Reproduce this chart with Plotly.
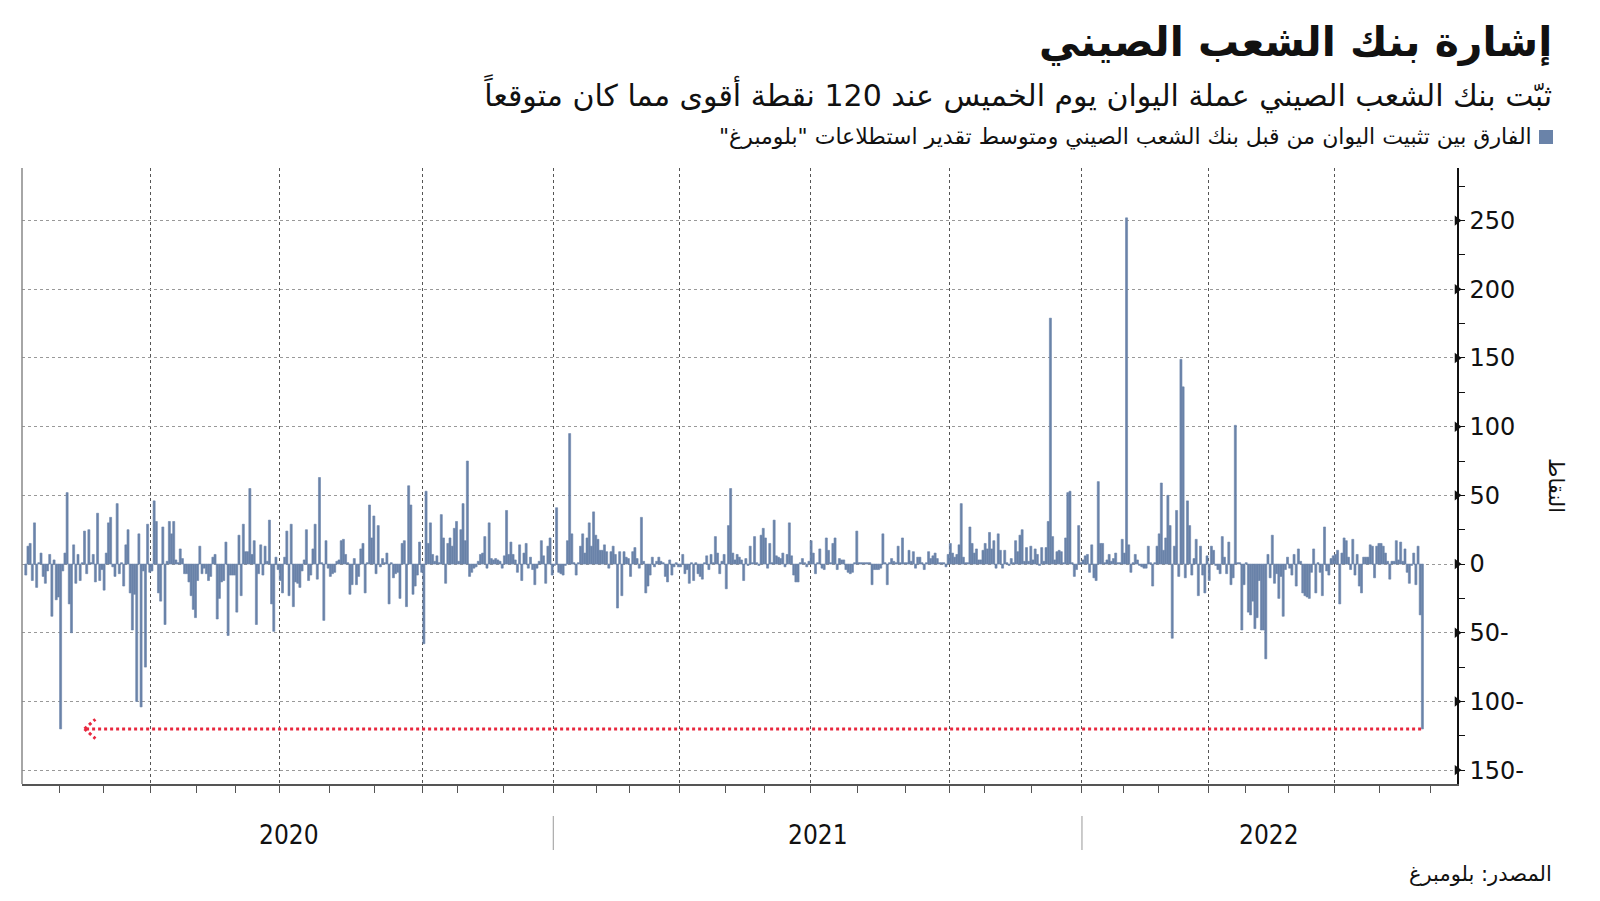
import numpy as np
import plotly.graph_objects as go

# ---------------- text ----------------
title = "إشارة بنك الشعب الصيني"
subtitle = "ثبّت بنك الشعب الصيني عملة اليوان يوم الخميس عند 120 نقطة أقوى مما كان متوقعاً"
legend_label = "الفارق بين تثبيت اليوان من قبل بنك الشعب الصيني ومتوسط تقدير استطلاعات \"بلومبرغ\""
source = "المصدر: بلومبرغ"
y_title = "النقاط"
years = ["2020", "2021", "2022"]

# ---------------- calendar (trading days per month) ----------------
trading_days_2020 = [16, 20, 22, 21, 18, 20, 23, 21, 22, 16, 21, 23]
trading_days_2021 = [20, 15, 23, 21, 18, 21, 22, 22, 20, 16, 22, 23]
trading_days_2022 = [19, 16, 23, 17, 20, 21, 21, 23]

# ---------------- data: fixing minus Bloomberg survey estimate (pips) ----------------
diff_2020_q1 = [-8, 13, 15, -12, 30, -17, 1, 8, -9, -14,
                -5, 7, -38, 3, -26, -24, -120, -5, 8, 52,
                -29, -50, 14, -14, 7, -12, 1, 24, -7, 25,
                1, 7, -13, 37, -12, -4, -19, 8, 30, 34,
                -2, -9, 44, -7, 1, -16, 14, 25, -21, -48,
                -22, -100, 22, -104, -5, -75, 29, -6, -5, 46,
                31, -21, -27, 27, -44, 2, 31, 22, 31, 3,
                1, 11, 4, -7, -7, -13, -23, -33, -39, -12]
diff_2020_q2 = [13, -7, -3, -7, -12, -9, 5, 7, -40, -25,
                -13, -12, 16, -52, -8, -8, -8, -35, 21, -23,
                29, 9, 9, 55, 7, 17, -44, -7, 14, -8,
                13, 2, 32, -29, -49, 5, -4, -12, -21, 5,
                24, -23, 29, -31, -13, -14, -17, -5, 3, 25,
                -12, -8, 11, 29, -11, 63, 1, -41, 17, -3,
                -9, -7, -6, 2, 3, 17, 18, 7, 1, -22,
                -15, 4, -15, -9, 11, 15, -21, 1, 43, 19,
                35]
diff_2020_q3 = [-7, 28, -2, 4, 1, 8, -29, 1, -10, -7,
                -6, -25, 15, 17, -31, 57, 43, -22, -16, -8,
                16, -6, -58, 53, 15, 30, 7, 2, 6, 1,
                36, 19, -14, 15, 19, 13, 26, 31, 2, 25,
                44, 17, 75, -9, -6, -3, -2, 2, 7, 8,
                20, -3, 30, 4, 3, 4, 3, 2, -3, 6,
                39, 7, 16, 7, 3, -6, 14, -12, 8, 15,
                -3, 5, -4, -15, -3, 2, 17, 6, -14, 13]
diff_2021_q1 = [19, -8, -1, 41, -6, -7, -8, -1, 17, 95,
                22, 1, -8, 1, 13, 22, 8, 19, 30, 13,
                38, 21, 18, 10, 10, 14, 9, -3, 9, 13,
                7, -32, 9, -23, 9, 5, 4, -9, 9, 12,
                4, -3, 34, 2, -21, -16, -8, 5, -2, 2,
                5, 2, 1, -9, -13, 3, -8, -2, 1, -2,
                -2, 7, -7, -4, -14, 1, -12, 1, -7, -9,
                -11, 1, 6, -4, 7, 1, 20, 8, -7, 2,
                7]
diff_2021_q2 = [-18, 28, 55, 8, 3, 7, 5, 3, -12, 4,
                -1, 13, 1, 20, 1, -1, 21, 26, 19, -3,
                15, 1, 32, 6, 5, 4, 8, -2, 7, 30,
                6, -8, -13, -13, 1, 4, 1, -2, 2, 17,
                8, -7, 1, 11, -3, -4, 19, 10, 1, 15,
                19, -4, 4, 3, 3, -4, -6, -7, -6, 1,
                24, 1, 1, 1, 1, 1, 1, -15, -4, -4,
                -4, -3, 22, 1, -15, 1, 4, 2, 1, 13]
diff_2021_q3 = [1, 19, 1, 1, 10, 2, 9, -3, 5, 5,
                1, -4, 1, 9, 4, 6, 8, 4, 1, 1,
                1, -2, 7, 15, 8, 5, 7, 14, 44, 5,
                1, 1, 27, 15, 8, 11, 3, 3, 10, 15,
                11, 23, 11, 17, -3, 22, 10, -3, 10, 1,
                -1, 4, 1, 17, 9, 21, 25, 2, 12, 2,
                13, 3, 11, 7, -1, 12, 2, 12, 31, 179,
                20, 3, 9, 10, 9, 1, 19, 52, 53, 1,
                -9]
diff_2022_q1 = [-4, 28, 1, 3, 6, 7, -6, 14, -10, -12,
                60, 15, 15, 1, 3, 7, 2, 4, 8, 1,
                1, 18, 8, 252, 14, -6, 1, 7, 3, -1,
                -2, -3, -3, 13, 1, -16, 1, 13, 22, 59,
                10, 19, 50, 28, -54, 13, 39, -9, 149, 129,
                -10, 46, 28, -8, 4, 18, -23, 13, -8, -21,
                6, -12, 13, 10, -1, -4, -7, 20, 5, -7,
                16, -15, -10, 101, 1, 1, -48, -15, 1, -35]
diff_2022_q2 = [-37, -27, -47, -39, -12, -48, -48, -69, 7, -10,
                21, -14, -7, -25, -9, -38, -4, 5, -3, -8,
                7, -16, 11, 2, -21, -23, -24, -25, -6, 11,
                -21, 1, -6, -23, 27, -5, -8, 4, 6, 7,
                10, -29, 8, 19, 17, 5, -4, 18, -8, 7,
                -16, -21, 5, 5, 5, 14, 13, -10, 13, 15,
                15, 13, 8, 2, -11, 2, 2, 17, 3, 16,
                2, 11, -6, -14, -1, 8, -15, 13, -37, -120]

# ---------------- axis labels ----------------
y_tick_vals = [-150, -100, -50, 0, 50, 100, 150, 200, 250]
y_tick_text = ["150-", "100-", "50-", "0", "50", "100", "150", "200", "250"]

# ---------------- build ----------------
values = (diff_2020_q1 + diff_2020_q2 + diff_2020_q3 + diff_2021_q1 + diff_2021_q2
          + diff_2021_q3 + diff_2022_q1 + diff_2022_q2)
idx = list(range(len(values)))

months = trading_days_2020 + trading_days_2021 + trading_days_2022
bounds = list(np.cumsum([0] + months) - 0.5)          # month boundaries
quarter_bounds = [b for k, b in enumerate(bounds) if k % 3 == 0 and k > 0 and k < len(bounds) - 1]
x_min, x_max = -1.74, 657.9
y_min, y_max = -160.1, 288.3

BAR = "#6a83a9"
RED = "#e8283f"
AR_FONT = "DejaVu Sans, sans-serif"
NUM_FONT = "DejaVu Sans, sans-serif"
RLM = "\u200f"

fig = go.Figure()
fig.add_trace(go.Bar(x=idx, y=values, marker=dict(color=BAR, line=dict(width=0.6, color=BAR)),
                     showlegend=False, hoverinfo="skip"))
# tick pointers on the right axis
fig.add_trace(go.Scatter(x=[x_max] * len(y_tick_vals), y=y_tick_vals, mode="markers",
                         marker=dict(symbol="triangle-right", size=9, color="#111"),
                         cliponaxis=False, showlegend=False, hoverinfo="skip"))

fig.update_layout(
    width=1600, height=901, autosize=False,
    margin=dict(l=22, r=143, t=168, b=117, pad=0),
    paper_bgcolor="white", plot_bgcolor="white",
    bargap=0.06,
    xaxis=dict(range=[x_min, x_max], tickmode="array", tickvals=quarter_bounds,
               showticklabels=False, ticks="outside", ticklen=7, tickcolor="#555", tickwidth=1,
               showgrid=True, gridcolor="#555", griddash="dot", gridwidth=1.2,
               showline=True, linecolor="#555", linewidth=2, zeroline=False,
               minor=dict(tickmode="array", tickvals=bounds[1:], ticks="outside", ticklen=7,
                          tickcolor="#555", showgrid=False)),
    yaxis=dict(range=[y_min, y_max], side="right", tickmode="array",
               tickvals=y_tick_vals, ticktext=y_tick_text,
               tickfont=dict(family=NUM_FONT, size=24, color="#111"),
               ticks="outside", ticklen=6, tickcolor="#111",
               showgrid=True, gridcolor="#999", griddash="dot", gridwidth=1,
               showline=True, linecolor="#111", linewidth=1.5, zeroline=False,
               minor=dict(dtick=25, tick0=0, ticks="outside", ticklen=6, tickcolor="#111",
                          showgrid=False)),
)

shapes = []
# left border
shapes.append(dict(type="line", xref="paper", yref="paper", x0=0, x1=0, y0=0, y1=1,
                   line=dict(color="#888", width=1.5)))
# year separators
for b in (bounds[12], bounds[24]):
    shapes.append(dict(type="line", xref="x", yref="paper", x0=b, x1=b, y0=-0.052, y1=-0.107,
                       line=dict(color="#aaa", width=1.2)))
# red dotted arrow to the last value
last_x = idx[-1]
last_y = values[-1]
tip_x = 27
shapes.append(dict(type="line", xref="x", yref="y", x0=last_x - 0.6, x1=tip_x + 1, y0=last_y, y1=last_y,
                   line=dict(color=RED, width=3, dash="dot")))
for s in (1, -1):
    shapes.append(dict(type="line", xref="x", yref="y", x0=tip_x, x1=tip_x + 5, y0=last_y,
                       y1=last_y + s * 7, line=dict(color=RED, width=3, dash="dot")))
# legend swatch
px_x = lambda p: (p - 22) / 1435.0
px_y = lambda q: (784 - q) / 616.0
shapes.append(dict(type="rect", xref="paper", yref="paper", x0=px_x(1539), x1=px_x(1553),
                   y0=px_y(144), y1=px_y(130), fillcolor=BAR, line=dict(width=0)))
fig.update_layout(shapes=shapes)

ann = []
ann.append(dict(text="<b>" + title + "</b>", xref="paper", yref="paper", x=px_x(1554), y=px_y(43),
                xanchor="right", yanchor="middle", showarrow=False,
                font=dict(family=AR_FONT, size=41, color="#111")))
ann.append(dict(text=RLM + subtitle + RLM, xref="paper", yref="paper", x=px_x(1554), y=px_y(94),
                xanchor="right", yanchor="middle", showarrow=False,
                font=dict(family=AR_FONT, size=30, color="#111")))
ann.append(dict(text=RLM + legend_label + RLM, xref="paper", yref="paper", x=px_x(1534), y=px_y(137),
                xanchor="right", yanchor="middle", showarrow=False,
                font=dict(family=AR_FONT, size=22, color="#111")))
ann.append(dict(text=source, xref="paper", yref="paper", x=px_x(1554), y=px_y(874),
                xanchor="right", yanchor="middle", showarrow=False,
                font=dict(family=AR_FONT, size=21, color="#111")))
ann.append(dict(text=y_title, xref="paper", yref="paper", x=px_x(1556), y=px_y(485),
                xanchor="center", yanchor="middle", showarrow=False, textangle=90,
                font=dict(family=AR_FONT, size=21, color="#111")))
year_centers = [(bounds[0] + bounds[12]) / 2, (bounds[12] + bounds[24]) / 2, (bounds[24] + x_max) / 2]
for yr, cx in zip(years, year_centers):
    ann.append(dict(text=yr, xref="x", yref="paper", x=cx, y=px_y(835),
                    xanchor="center", yanchor="middle", showarrow=False,
                    font=dict(family="DejaVu Sans Condensed, Roboto, sans-serif", size=26, color="#111")))
fig.update_layout(annotations=ann)

fig.write_html("out.html")
